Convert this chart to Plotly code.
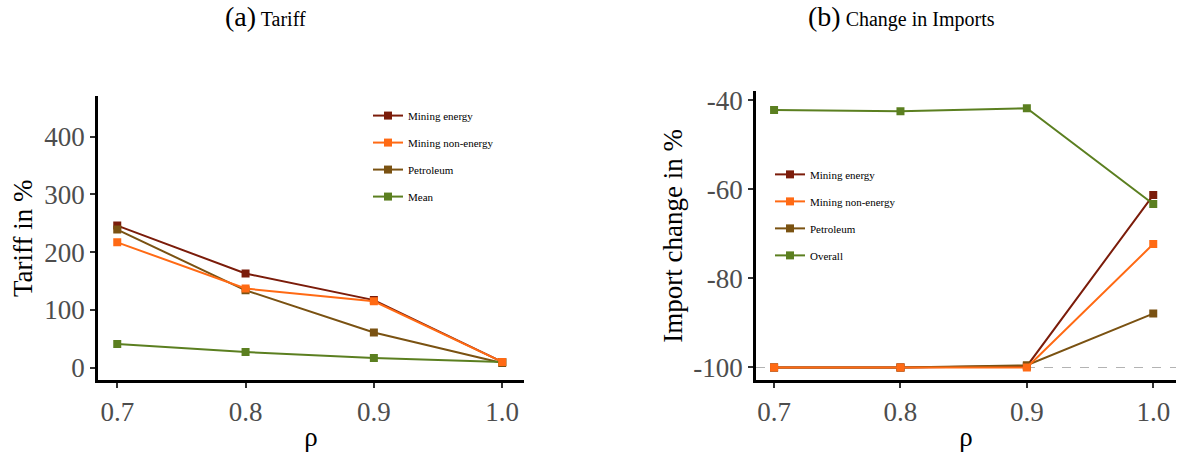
import plotly.graph_objects as go

rho = [0.7, 0.8, 0.9, 1.0]
rho_labels = ["0.7", "0.8", "0.9", "1.0"]

tariff_ticks = [0, 100, 200, 300, 400]
import_ticks = [-100, -80, -60, -40]
import_tick_labels = ["-100", "-80", "-60", "-40"]

tariff_mining_energy = [246, 163, 117, 10]
tariff_mining_nonenergy = [217, 137, 115, 10]
tariff_petroleum = [239, 134, 61, 8]
tariff_mean = [41, 27, 17, 10]

imp_mining_energy = [-100, -100, -99.7, -61.3]
imp_mining_nonenergy = [-100, -100, -100, -72.3]
imp_petroleum = [-100, -100, -99.5, -87.9]
imp_overall = [-42.2, -42.5, -41.8, -63.3]

C_ME = "#7b1c0a"
C_MN = "#ff6a14"
C_PE = "#7a5212"
C_MEAN = "#5b7f20"

FONT = "Liberation Serif"

fig = go.Figure()

def add(x, y, name, color, xa, ya, legend, rank):
    fig.add_trace(go.Scatter(
        x=x, y=y, name=name, mode="lines+markers",
        line=dict(color=color, width=2),
        marker=dict(symbol="square", size=8, color=color),
        xaxis=xa, yaxis=ya, legend=legend, legendrank=rank,
        legendgroup=legend + name))

# drawing order: energy, petroleum, mean, non-energy (on top)
add(rho, tariff_mining_energy, "Mining energy", C_ME, "x", "y", "legend", 1)
add(rho, tariff_petroleum, "Petroleum", C_PE, "x", "y", "legend", 3)
add(rho, tariff_mean, "Mean", C_MEAN, "x", "y", "legend", 4)
add(rho, tariff_mining_nonenergy, "Mining non-energy", C_MN, "x", "y", "legend", 2)

add(rho, imp_mining_energy, "Mining energy", C_ME, "x2", "y2", "legend2", 1)
add(rho, imp_petroleum, "Petroleum", C_PE, "x2", "y2", "legend2", 3)
add(rho, imp_overall, "Overall", C_MEAN, "x2", "y2", "legend2", 4)
add(rho, imp_mining_nonenergy, "Mining non-energy", C_MN, "x2", "y2", "legend2", 2)

W, H = 1177, 453

def px_x(p):
    return p / W

def px_y(p):
    return 1 - p / H

axis_common = dict(
    showline=True, linecolor="black", linewidth=2.5,
    ticks="outside", ticklen=5, tickcolor="#333333", tickwidth=1.5,
    showgrid=False, zeroline=False,
    tickfont=dict(family=FONT, size=27, color="#4d4d4d"),
)
title_font = dict(family=FONT, size=27, color="black")

fig.update_layout(
    width=W, height=H,
    margin=dict(l=0, r=0, t=0, b=0),
    paper_bgcolor="white", plot_bgcolor="white",
    font=dict(family=FONT, color="black"),
    xaxis=dict(domain=[px_x(98), px_x(524)], range=[0.685, 1.017],
               tickvals=rho, ticktext=rho_labels, anchor="y",
               title=dict(text="ρ", font=title_font, standoff=2),
               **axis_common),
    yaxis=dict(domain=[px_y(382), px_y(92)], range=[-22, 470],
               tickvals=tariff_ticks, anchor="x",
               title=dict(text="Tariff in %", font=title_font, standoff=4),
               **axis_common),
    xaxis2=dict(domain=[px_x(756), px_x(1176)], range=[0.6857, 1.018],
                tickvals=rho, ticktext=rho_labels, anchor="y2",
                title=dict(text="ρ", font=title_font, standoff=2),
                **axis_common),
    yaxis2=dict(domain=[px_y(382), px_y(87)], range=[-102.9, -38.0],
                tickvals=import_ticks, ticktext=import_tick_labels, anchor="x2",
                title=dict(text="Import change in %", font=title_font, standoff=3),
                **axis_common),
    legend=dict(x=px_x(368), y=px_y(97), xanchor="left", yanchor="top",
                bgcolor="rgba(0,0,0,0)", font=dict(family=FONT, size=11),
                tracegroupgap=8, itemwidth=30),
    legend2=dict(x=px_x(770), y=px_y(157), xanchor="left", yanchor="top",
                 bgcolor="rgba(0,0,0,0)", font=dict(family=FONT, size=11),
                 tracegroupgap=8, itemwidth=30),
    showlegend=True,
)

fig.add_shape(type="line", xref="x2 domain", yref="y2", x0=0, x1=1, y0=-100, y1=-100,
              line=dict(color="#b3b3b3", width=1.2, dash="dash"), layer="below")

fig.add_annotation(text="<span style='font-size:28px'>(a)</span> Tariff",
                   x=px_x(265), y=px_y(11), xref="paper", yref="paper",
                   xanchor="center", yanchor="middle",
                   showarrow=False, font=dict(family=FONT, size=20, color="black"))
fig.add_annotation(text="<span style='font-size:28px'>(b)</span> Change in Imports",
                   x=px_x(901), y=px_y(11), xref="paper", yref="paper",
                   xanchor="center", yanchor="middle",
                   showarrow=False, font=dict(family=FONT, size=20, color="black"))

fig.write_html("out.html", config={"displayModeBar": False},
               post_script="document.body.style.margin='0';document.body.style.overflow='hidden';")
